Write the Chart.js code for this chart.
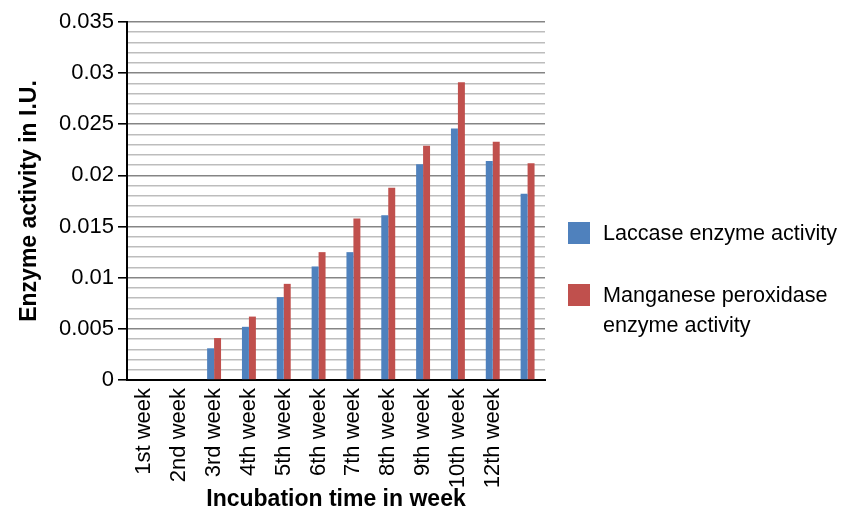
<!DOCTYPE html>
<html>
<head>
<meta charset="utf-8">
<script src="https://cdn.jsdelivr.net/npm/chart.js@4.4.1/dist/chart.umd.min.js"></script>
<style>
    body { margin: 0; background: #fff; }
    #wrap { position: relative; width: 843px; height: 523px; font-family: "Liberation Sans", Arial, sans-serif; }
    #legend { position: absolute; left: 568px; top: 218px; width: 275px; }
    #legend .item { display: flex; align-items: flex-start; margin-bottom: 32px; }
    #legend .box { width: 22px; height: 22px; flex: none; margin-top: 4px; }
    #legend .text { margin-left: 13px; font-size: 21.6px; line-height: 30px; color: #000; width: 238px; }
</style>
</head>
<body>
<div id="wrap">
    <canvas id="chart" width="843" height="523"></canvas>
    <div id="legend"></div>
</div>
<script>
const weeks = ["1st week", "2nd week", "3rd week", "4th week", "5th week", "6th week",
    "7th week", "8th week", "9th week", "10th week", "12th week", ""];
const laccase = [0, 0, 0.0031, 0.0052, 0.0081, 0.0111, 0.0125, 0.0161, 0.0211, 0.0246, 0.0214, 0.0182];
const manganese = [0, 0, 0.0041, 0.0062, 0.0094, 0.0125, 0.0158, 0.0188, 0.0229, 0.0291, 0.0233, 0.0212];
const yTickLabels = ["0", "0.005", "0.01", "0.015", "0.02", "0.025", "0.03", "0.035"];
const seriesNames = ["Laccase enzyme activity", "Manganese peroxidase enzyme activity"];
const seriesColors = ["#4F81BD", "#C0504D"];

function isMajor(value) {
    return Math.round(value * 1000) % 5 === 0;
}

const data = {
    labels: weeks,
    datasets: [
        { label: seriesNames[0], data: laccase, backgroundColor: seriesColors[0] },
        { label: seriesNames[1], data: manganese, backgroundColor: seriesColors[1] }
    ]
};

const config = {
    type: "bar",
    data: data,
    options: {
        responsive: false,
        animation: false,
        datasets: {
            bar: { categoryPercentage: 0.4, barPercentage: 1.0 }
        },
        layout: {
            padding: { left: 16, right: 298, top: 22, bottom: 6 }
        },
        plugins: {
            legend: { display: false },
            tooltip: { enabled: false }
        },
        scales: {
            x: {
                grid: { display: false, drawTicks: false },
                border: { display: true, color: "#000", width: 2 },
                ticks: {
                    color: "#000",
                    font: { family: "Liberation Sans", size: 22 },
                    minRotation: 90,
                    maxRotation: 90,
                    autoSkip: false,
                    padding: 8
                },
                title: {
                    display: true,
                    text: "Incubation time in week",
                    color: "#000",
                    font: { family: "Liberation Sans", size: 23, weight: "bold" },
                    padding: { top: 4, bottom: 4 }
                },
                afterFit: function (scale) {
                    scale.height = 523 - 380 - 6;
                }
            },
            y: {
                min: 0,
                max: 0.035,
                ticks: {
                    stepSize: 0.001,
                    autoSkip: false,
                    color: "#000",
                    padding: 4,
                    font: { family: "Liberation Sans", size: 22 },
                    callback: function (value) {
                        return isMajor(value) ? yTickLabels[Math.round(value * 1000) / 5] : "";
                    }
                },
                grid: {
                    color: function (ctx) {
                        return ctx.tick && isMajor(ctx.tick.value) ? "#858585" : "#bdbdbd";
                    },
                    lineWidth: 1.6,
                    tickLength: 9,
                    tickColor: function (ctx) {
                        return ctx.tick && isMajor(ctx.tick.value) ? "#000" : "rgba(0,0,0,0)";
                    }
                },
                border: { display: true, color: "#000", width: 2 },
                title: {
                    display: true,
                    text: "Enzyme activity in I.U.",
                    color: "#000",
                    font: { family: "Liberation Sans", size: 23, weight: "bold" },
                    padding: { top: 0, bottom: 6 }
                },
                afterFit: function (scale) {
                    scale.width = 111;
                }
            }
        }
    }
};

new Chart(document.getElementById("chart"), config);

// legend with wrapped text, built from the datasets
const legend = document.getElementById("legend");
data.datasets.forEach(function (ds) {
    const item = document.createElement("div");
    item.className = "item";
    item.innerHTML = '<span class="box" style="background:' + ds.backgroundColor + '"></span><span class="text">' + ds.label + '</span>';
    legend.appendChild(item);
});
</script>
</body>
</html>
